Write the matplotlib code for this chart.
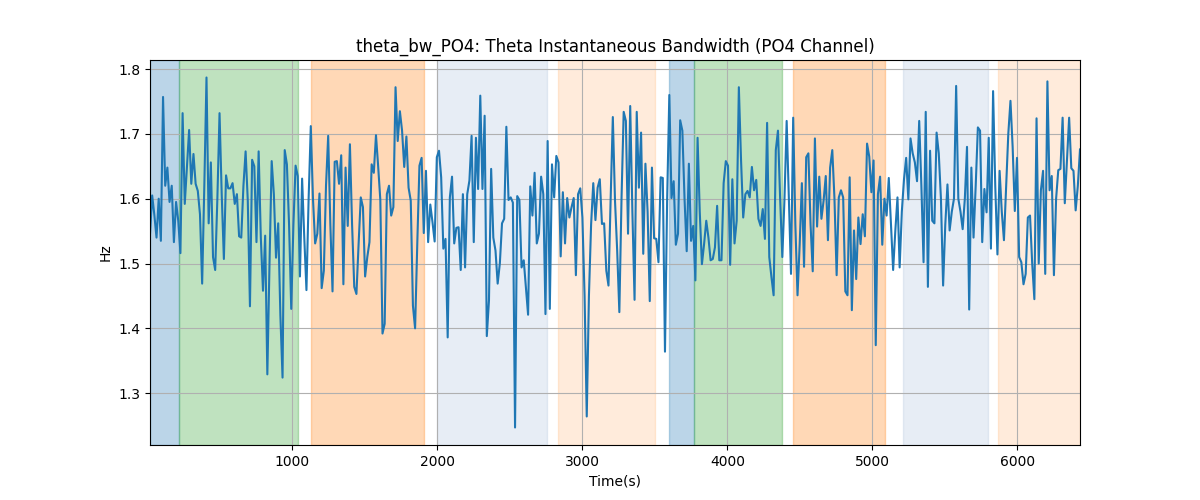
import numpy as np
import matplotlib
matplotlib.use("Agg")
import matplotlib.pyplot as plt

# theta bandwidth values, left to right
bw_values = [
    1.545, 1.605, 1.575, 1.54, 1.6, 1.535, 1.757, 1.62, 1.648, 1.595, 1.62, 1.533, 1.595, 1.566, 1.516, 1.732,
    1.592, 1.65, 1.706, 1.623, 1.669, 1.623, 1.612, 1.576, 1.469, 1.62, 1.787, 1.562, 1.656, 1.51, 1.49, 1.6,
    1.732, 1.607, 1.507, 1.636, 1.616, 1.616, 1.624, 1.592, 1.607, 1.542, 1.54, 1.62, 1.673, 1.597, 1.434, 1.66,
    1.65, 1.533, 1.673, 1.54, 1.458, 1.543,
    1.329, 1.5, 1.658, 1.607, 1.509, 1.562, 1.42, 1.324, 1.675, 1.653, 1.56, 1.43, 1.56, 1.651, 1.635, 1.48,
    1.631, 1.54, 1.459, 1.6, 1.712, 1.6, 1.531, 1.546, 1.608, 1.462, 1.489, 1.62, 1.697, 1.56, 1.457, 1.657,
    1.658, 1.623, 1.667, 1.468, 1.648, 1.558, 1.684, 1.56, 1.464, 1.453, 1.53, 1.602, 1.587, 1.48, 1.51, 1.533,
    1.653, 1.64, 1.698, 1.65, 1.598, 1.392,
    1.407, 1.607, 1.62, 1.574, 1.587, 1.772, 1.689, 1.735, 1.705, 1.649, 1.696, 1.617, 1.597, 1.435, 1.4, 1.53,
    1.651, 1.663, 1.547, 1.643, 1.533, 1.591, 1.564, 1.534, 1.664, 1.674, 1.633, 1.523, 1.538, 1.386, 1.602, 1.634,
    1.531, 1.555, 1.556, 1.49, 1.607, 1.494, 1.607, 1.628, 1.697, 1.533, 1.694, 1.615, 1.759, 1.615, 1.728, 1.388,
    1.443, 1.646, 1.54, 1.52, 1.469,
    1.5, 1.562, 1.569, 1.711, 1.598, 1.602, 1.594, 1.247, 1.604, 1.598, 1.494, 1.505, 1.464, 1.421, 1.619, 1.574,
    1.64, 1.531, 1.546, 1.634, 1.607, 1.422, 1.689, 1.43, 1.653, 1.602, 1.666, 1.656, 1.511, 1.61, 1.531, 1.601,
    1.571, 1.587, 1.601, 1.482, 1.607, 1.616, 1.571, 1.45, 1.264, 1.45, 1.56, 1.624, 1.567, 1.617, 1.63, 1.561,
    1.562, 1.489, 1.466, 1.6, 1.726, 1.597,
    1.52, 1.425, 1.6, 1.734, 1.72, 1.546, 1.743, 1.58, 1.444, 1.734, 1.617, 1.702, 1.515, 1.654, 1.58, 1.442,
    1.648, 1.539, 1.538, 1.502, 1.633, 1.632, 1.364, 1.6, 1.76, 1.601, 1.627, 1.529, 1.546, 1.721, 1.705, 1.6,
    1.519, 1.654, 1.535, 1.558, 1.474, 1.694, 1.58, 1.499, 1.53, 1.566, 1.54, 1.505, 1.507, 1.525, 1.589, 1.505,
    1.505, 1.624, 1.658, 1.651, 1.498,
    1.63, 1.531, 1.566, 1.772, 1.66, 1.571, 1.607, 1.612, 1.602, 1.649, 1.613, 1.629, 1.569, 1.558, 1.584, 1.538,
    1.717, 1.51, 1.479, 1.451, 1.675, 1.705, 1.6, 1.51, 1.6, 1.72, 1.6, 1.484, 1.725, 1.56, 1.451, 1.53,
    1.624, 1.495, 1.664, 1.67, 1.56, 1.488, 1.693, 1.557, 1.634, 1.569, 1.597, 1.635, 1.536, 1.648, 1.675, 1.6,
    1.482, 1.602, 1.613, 1.602, 1.457, 1.451,
    1.633, 1.428, 1.551, 1.476, 1.571, 1.53, 1.576, 1.542, 1.685, 1.665, 1.61, 1.659, 1.374, 1.607, 1.634, 1.529,
    1.6, 1.574, 1.632, 1.56, 1.49, 1.55, 1.602, 1.494, 1.58, 1.63, 1.663, 1.599, 1.693, 1.67, 1.656, 1.627,
    1.72, 1.62, 1.502, 1.734, 1.464, 1.674, 1.566, 1.562, 1.702, 1.67, 1.6, 1.466, 1.56, 1.622, 1.551, 1.58,
    1.6, 1.774, 1.6, 1.58, 1.553,
    1.6, 1.68, 1.429, 1.648, 1.54, 1.62, 1.71, 1.705, 1.533, 1.615, 1.579, 1.694, 1.523, 1.766, 1.62, 1.514,
    1.643, 1.58, 1.536, 1.62, 1.7, 1.751, 1.68, 1.581, 1.663, 1.51, 1.502, 1.468, 1.484, 1.571, 1.574, 1.5,
    1.445, 1.724, 1.5, 1.613, 1.643, 1.484, 1.781, 1.613, 1.635, 1.482, 1.6, 1.644, 1.646, 1.725, 1.593, 1.66,
    1.725, 1.647, 1.643, 1.582, 1.62, 1.676,
]
t_start, t_end = 18, 6432

# shaded segments: (start, end, colour, alpha)
span_starts = [18, 220, 1130, 2000, 2832, 3598, 3768, 4453, 5212, 5867]
span_ends = [220, 1036, 1906, 2757, 3500, 3768, 4375, 5085, 5796, 6432]
span_colors = ["tab:blue", "tab:green", "tab:orange", "lightsteelblue", "tab:orange",
               "tab:blue", "tab:green", "tab:orange", "lightsteelblue", "tab:orange"]
span_alphas = [0.3, 0.3, 0.3, 0.3, 0.15, 0.3, 0.3, 0.3, 0.3, 0.15]

t = np.linspace(t_start, t_end, len(bw_values))

fig, ax = plt.subplots(figsize=(12, 5), dpi=100)

for s, e, c, a in zip(span_starts, span_ends, span_colors, span_alphas):
    ax.axvspan(s, e, color=c, alpha=a)

ax.plot(t, bw_values, color="tab:blue", linewidth=1.5)
ax.set_xlim(t_start, t_end)
ax.set_title("theta_bw_PO4: Theta Instantaneous Bandwidth (PO4 Channel)")
ax.set_xlabel("Time(s)")
ax.set_ylabel("Hz")
ax.grid(True)

fig.savefig("out.png")
